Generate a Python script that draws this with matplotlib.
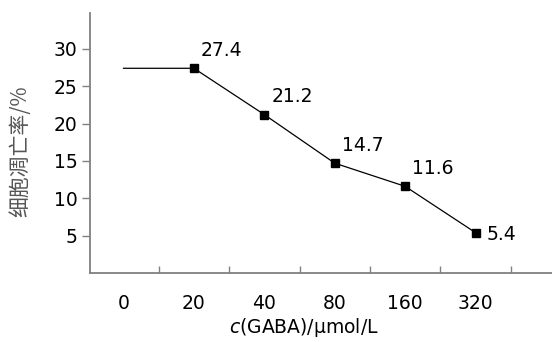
import numpy as np
import matplotlib
matplotlib.use("Agg")
import matplotlib.pyplot as plt

# 数据
doses = ["0", "20", "40", "80", "160", "320"]
apoptosis = [27.4, 27.4, 21.2, 14.7, 11.6, 5.4]
labels = ["", "27.4", "21.2", "14.7", "11.6", "5.4"]
y_ticks = [5, 10, 15, 20, 25, 30]

plt.rcParams['font.family'] = ['DejaVu Sans', 'Noto Sans CJK SC']

fig = plt.figure(figsize=(5.52, 3.42), dpi=100)
ax = fig.add_axes([90 / 552, 69 / 342, 462 / 552, 260 / 342])

x = np.arange(len(doses))
ax.plot(x, apoptosis, color='black', lw=0.9)
ax.plot(x[1:], apoptosis[1:], 's', color='black', ms=5.5, lw=0)

# 数值标注
for xi, yi, lab in zip(x[1:], apoptosis[1:], labels[1:]):
    if lab == "5.4":
        ax.annotate(lab, (xi, yi), xytext=(8, -1.5), textcoords='offset points',
                    ha='left', va='center', fontsize=13.5)
    else:
        ax.annotate(lab, (xi, yi), xytext=(5, 13), textcoords='offset points',
                    ha='left', va='center', fontsize=13.5)

ax.set_xlim(-0.476, 6.086)
ax.set_ylim(0, 34.8)

# 坐标轴样式
for s in ['top', 'right']:
    ax.spines[s].set_visible(False)
for s in ['left', 'bottom']:
    ax.spines[s].set_color('#808080')
    ax.spines[s].set_linewidth(1.3)

ax.set_yticks(y_ticks)
ax.tick_params(axis='y', direction='out', length=6, width=1, color='#808080',
               labelsize=13.5, pad=3)

ax.set_xticks(x + 0.5)
ax.set_xticklabels([])
ax.tick_params(axis='x', which='major', direction='in', length=5, width=1, color='#808080')
ax.set_xticks(x, minor=True)
ax.set_xticklabels(doses, minor=True)
ax.tick_params(axis='x', which='minor', length=0, labelsize=13.5, pad=15)

ax.set_xlabel(r"$c$(GABA)/$\mathrm{\mu}$mol/L", fontsize=13.5)
ax.xaxis.set_label_coords(0.463, -0.165)
ax.set_ylabel("细胞凋亡率/%", fontsize=15, color='#555555',
              family=['Noto Sans CJK SC', 'DejaVu Sans'])
ax.yaxis.set_label_coords(-0.127, 0.47)

fig.savefig("out.png", dpi=100)
